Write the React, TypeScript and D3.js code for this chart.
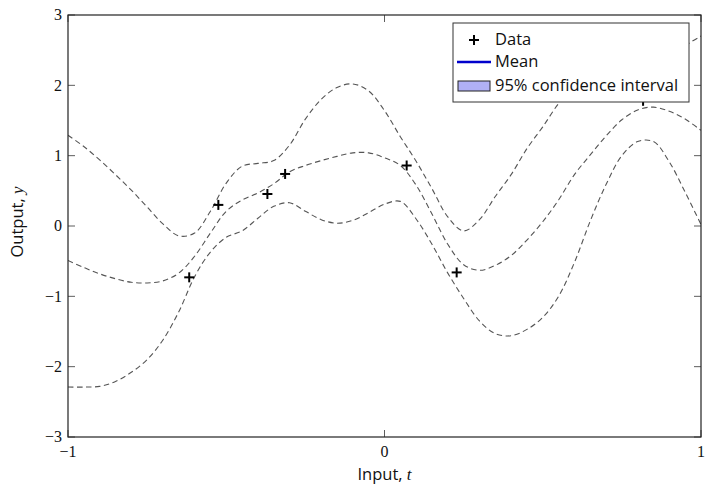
import React from "react";
import * as d3 from "d3";

// Shared input grid for the posterior curves
const tGrid = [
  -1.0, -0.95, -0.9, -0.85, -0.8, -0.75, -0.7, -0.65, -0.6, -0.55, -0.5,
  -0.45, -0.4, -0.35, -0.3, -0.25, -0.2, -0.15, -0.1, -0.05, 0.0,
  0.05, 0.1, 0.15, 0.2, 0.25, 0.3, 0.35, 0.4, 0.45, 0.5,
  0.55, 0.6, 0.65, 0.7, 0.75, 0.8, 0.85, 0.9, 0.95, 1.0,
];

// Posterior mean
const meanY = [
  -0.49, -0.59, -0.68, -0.75, -0.8, -0.81, -0.78, -0.67, -0.43, -0.1, 0.21,
  0.37, 0.47, 0.6, 0.77, 0.86, 0.93, 0.99, 1.04, 1.04, 0.97,
  0.86, 0.58, 0.17, -0.26, -0.55, -0.63, -0.56, -0.42, -0.2, 0.06,
  0.37, 0.73, 1.01, 1.28, 1.51, 1.65, 1.69, 1.63, 1.52, 1.36,
];

// Upper edge of the 95% band
const upperY = [
  1.29, 1.13, 0.94, 0.73, 0.51, 0.27, 0.03, -0.14, -0.1, 0.21, 0.61,
  0.85, 0.89, 0.93, 1.15, 1.52, 1.8, 1.97, 2.02, 1.92, 1.64,
  1.27, 0.92, 0.53, 0.13, -0.07, 0.09, 0.42, 0.73, 1.1, 1.41,
  1.74, 1.98, 1.95, 1.97, 2.02, 2.1, 2.18, 2.35, 2.56, 2.7,
];

// Lower edge of the 95% band
const lowerY = [
  -2.29, -2.29, -2.28, -2.21, -2.08, -1.9, -1.62, -1.22, -0.72, -0.37, -0.16,
  -0.07, 0.11, 0.28, 0.33, 0.21, 0.09, 0.04, 0.08, 0.19, 0.31,
  0.35, 0.1, -0.26, -0.67, -1.03, -1.35, -1.53, -1.56, -1.47, -1.3,
  -1.0, -0.52, 0.07, 0.59, 1.0, 1.2, 1.2, 0.91, 0.48, 0.02,
];

// Observations
const dataT = [-0.617, -0.525, -0.37, -0.314, 0.07, 0.228, 0.817];
const dataY = [-0.73, 0.3, 0.455, 0.74, 0.86, -0.66, 1.78];

const xTicks = [-1, 0, 1];
const yTicks = [-3, -2, -1, 0, 1, 2, 3];

const W = 706;
const H = 487;
const left = 68;
const right = 701;
const top = 15;
const bottom = 437;

const serif = "'Liberation Serif', 'DejaVu Serif', serif";
const sans = "'Open Sans', Lato, sans-serif";

const fmt = (v: number) => (v < 0 ? "\u2212" + Math.abs(v) : String(v));

export default function App() {
  const x = d3.scaleLinear().domain([-1, 1]).range([left, right]);
  const y = d3.scaleLinear().domain([-3, 3]).range([bottom, top]);

  const line = d3
    .line<number>()
    .x((_, i) => x(tGrid[i]))
    .y((d) => y(d))
    .curve(d3.curveCatmullRom.alpha(0.5));

  const dash = { fill: "none", stroke: "#555", strokeWidth: 1.1, strokeDasharray: "5.5,3.5" };

  const tick = 7;

  return (
    <svg
      width={W}
      height={H}
      style={{ position: "absolute", left: 0, top: 0, background: "#fff" }}
    >
      <defs>
        <clipPath id="plotArea">
          <rect x={left} y={top} width={right - left} height={bottom - top} />
        </clipPath>
      </defs>

      <g clipPath="url(#plotArea)">
        <path d={line(upperY) || ""} {...dash} />
        <path d={line(meanY) || ""} {...dash} />
        <path d={line(lowerY) || ""} {...dash} />
        {dataT.map((t, i) => {
          const cx = x(t);
          const cy = y(dataY[i]);
          return (
            <g key={i} stroke="#000" strokeWidth={2}>
              <line x1={cx - 5} x2={cx + 5} y1={cy} y2={cy} />
              <line x1={cx} x2={cx} y1={cy - 5} y2={cy + 5} />
            </g>
          );
        })}
      </g>

      {/* ticks on all four sides */}
      <g stroke="#333" strokeWidth={0.8}>
        {yTicks.map((v) => (
          <g key={"y" + v}>
            <line x1={left} x2={left + tick} y1={y(v)} y2={y(v)} />
            <line x1={right - tick} x2={right} y1={y(v)} y2={y(v)} />
          </g>
        ))}
        {xTicks.map((v) => (
          <g key={"x" + v}>
            <line x1={x(v)} x2={x(v)} y1={bottom} y2={bottom - tick} />
            <line x1={x(v)} x2={x(v)} y1={top} y2={top + tick} />
          </g>
        ))}
      </g>

      <rect
        x={left}
        y={top}
        width={right - left}
        height={bottom - top}
        fill="none"
        stroke="#222"
        strokeWidth={1.2}
      />

      {/* tick labels */}
      <g fontFamily={serif} fontSize={16} fill="#111">
        {yTicks.map((v) => (
          <text key={"yl" + v} x={left - 6} y={y(v)} dy="0.33em" textAnchor="end">
            {fmt(v)}
          </text>
        ))}
        {xTicks.map((v) => (
          <text key={"xl" + v} x={x(v)} y={bottom + 20} textAnchor="middle">
            {fmt(v)}
          </text>
        ))}
      </g>

      {/* axis titles */}
      <text x={(left + right) / 2} y={480} textAnchor="middle" fontFamily={sans} fontSize={16.5} fill="#111">
        Input,{" "}
        <tspan fontFamily={serif} fontStyle="italic" fontSize={17}>
          t
        </tspan>
      </text>
      <text
        transform={`translate(23, ${(top + bottom) / 2 - 4}) rotate(-90)`}
        textAnchor="middle"
        fontFamily={sans}
        fontSize={16.5}
        fill="#111"
      >
        Output,{" "}
        <tspan fontFamily={serif} fontStyle="italic" fontSize={17}>
          y
        </tspan>
      </text>

      {/* legend */}
      <g>
        <rect x={453} y={23} width={236} height={79} fill="#fff" stroke="#333" strokeWidth={1} />
        <g stroke="#000" strokeWidth={2}>
          <line x1={469} x2={479} y1={40} y2={40} />
          <line x1={474} x2={474} y1={35} y2={45} />
        </g>
        <line x1={457} x2={491} y1={62} y2={62} stroke="#0000cc" strokeWidth={2.4} />
        <rect x={458} y={81} width={32} height={10} fill="#b0b0f5" stroke="#222" strokeWidth={1} />
        <g fontFamily={sans} fontSize={16.5} fill="#111">
          <text x={495} y={45}>Data</text>
          <text x={495} y={67}>Mean</text>
          <text x={495} y={91}>95% confidence interval</text>
        </g>
      </g>
    </svg>
  );
}
